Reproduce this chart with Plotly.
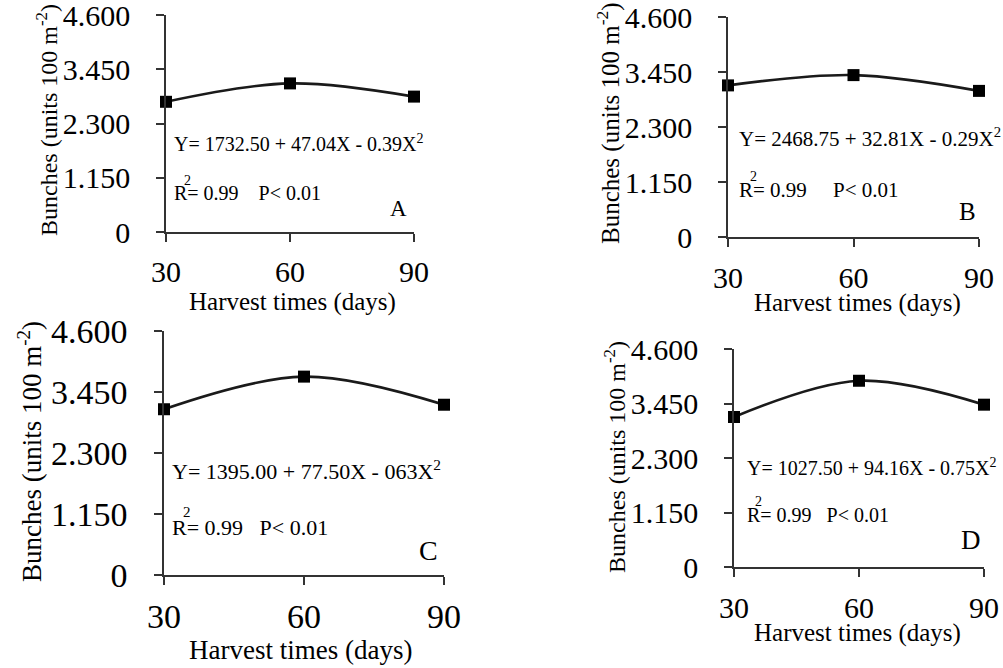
import plotly.graph_objects as go

W, H = 1003, 668

# ---------------- data ----------------
harvest_days = [30, 60, 90]
bunches_A = [2760, 3150, 2870]
bunches_B = [3170, 3385, 3055]
bunches_C = [3125, 3740, 3210]
bunches_D = [3165, 3930, 3425]

y_tickvals = [0, 1150, 2300, 3450, 4600]
y_ticktext = ["0", "1.150", "2.300", "3.450", "4.600"]
x_tickvals = [30, 60, 90]

equations = [
    "Y= 1732.50 + 47.04X - 0.39X<sup>2</sup>",
    "Y= 2468.75 + 32.81X - 0.29X<sup>2</sup>",
    "Y= 1395.00 + 77.50X - 063X<sup>2</sup>",
    "Y= 1027.50 + 94.16X - 0.75X<sup>2</sup>",
]
stats_text = [
    "R= 0.99\u00a0\u00a0\u00a0\u00a0P< 0.01",
    "R= 0.99\u00a0\u00a0\u00a0\u00a0\u00a0P< 0.01",
    "R= 0.99\u00a0\u00a0\u00a0P< 0.01",
    "R= 0.99\u00a0\u00a0\u00a0P< 0.01",
]
panel_letters = ["A", "B", "C", "D"]
x_title = "Harvest times (days)"
y_title = "Bunches (units 100 m<sup>-2</sup>)"

# ---------------- layout geometry (pixels) ----------------
FONT = "Liberation Serif, Times New Roman, serif"
panels = [
    dict(x0=166, x1=414, yt=15, yb=232, tf=30, tt=25, yf=24, ef=20, lf=23,
         so=4, eq=(172, 143), st=(172, 193), sup=(187, 180), let=(398, 208),
         xt=(292, 302), yt_=(47, 120)),
    dict(x0=728, x1=979, yt=17, yb=237, tf=30, tt=25, yf=25, ef=21, lf=25,
         so=5, eq=(737, 137), st=(737, 190), sup=(753, 176), let=(967, 212),
         xt=(857, 303), yt_=(608, 123)),
    dict(x0=164, x1=444, yt=331, yb=575, tf=34, tt=27, yf=27, ef=22, lf=28,
         so=2, eq=(170, 470), st=(170, 527), sup=(187, 512), let=(428, 550),
         xt=(300, 650), yt_=(30, 452)),
    dict(x0=734, x1=984, yt=349, yb=567, tf=30, tt=25, yf=24, ef=20, lf=27,
         so=5, eq=(745, 467), st=(745, 515), sup=(758, 501), let=(971, 540),
         xt=(857, 633), yt_=(615, 457)),
]
series = [bunches_A, bunches_B, bunches_C, bunches_D]


def px(x):
    return x / W


def py(y):
    return 1 - y / H


def note(x, y, text, size, xanchor="left", angle=0, yanchor="middle"):
    return dict(x=px(x), y=py(y), xref="paper", yref="paper", text=text,
                xanchor=xanchor, yanchor=yanchor, showarrow=False,
                textangle=angle,
                font=dict(family=FONT, size=size, color="black"))


fig = go.Figure()
annotations = []
for i, (p, vals) in enumerate(zip(panels, series)):
    n = "" if i == 0 else str(i + 1)
    fig.add_trace(go.Scatter(
        x=harvest_days, y=vals, mode="lines+markers",
        line=dict(color="#1a1a1a", width=2.6, shape="spline"),
        marker=dict(symbol="square", size=12, color="black"),
        cliponaxis=False, showlegend=False,
        xaxis="x" + n, yaxis="y" + n,
    ))
    fig.layout["xaxis" + n] = dict(
        domain=[px(p["x0"]), px(p["x1"])], anchor="y" + n, automargin=False,
        range=[30, 90], tickvals=x_tickvals, ticks="outside", ticklen=8,
        tickwidth=1.5, tickcolor="#333", showline=True, linecolor="#333",
        linewidth=1.5, showgrid=False, zeroline=False,
        ticklabeloverflow="allow",
        tickfont=dict(family=FONT, size=p["tf"], color="black"),
        ticklabelstandoff=p["so"],
    )
    fig.layout["yaxis" + n] = dict(
        domain=[py(p["yb"]), py(p["yt"])], anchor="x" + n, automargin=False,
        range=[0, 4600], tickvals=y_tickvals, ticktext=y_ticktext,
        ticks="outside", ticklen=8, tickwidth=1.5, tickcolor="#333",
        showline=True, linecolor="#333", linewidth=1.5, showgrid=False,
        zeroline=False, ticklabeloverflow="allow",
        tickfont=dict(family=FONT, size=p["tf"], color="black"),
        ticklabelstandoff=20,
    )
    annotations += [
        note(p["eq"][0], p["eq"][1], equations[i], p["ef"]),
        note(p["st"][0], p["st"][1], stats_text[i], p["ef"]),
        note(p["sup"][0], p["sup"][1], "2", int(p["ef"] * 0.7), "center"),
        note(p["let"][0], p["let"][1], panel_letters[i], p["lf"], "center"),
        note(p["xt"][0], p["xt"][1], x_title, p["tt"], "center"),
        note(p["yt_"][0], p["yt_"][1], y_title, p["yf"], "center", -90),
    ]

# clipped superscripts of the caption line below the figure
for xc in [683, 827, 972]:
    annotations.append(note(xc, 662, "2", 13, "center", yanchor="top"))

fig.update_layout(
    width=W, height=H, margin=dict(l=0, r=0, t=0, b=0, autoexpand=False),
    paper_bgcolor="white", plot_bgcolor="white",
    annotations=annotations,
)
fig.write_html(
    "out.html",
    config={"displayModeBar": False},
    post_script="document.body.style.margin='0';"
                "document.body.style.overflow='hidden';",
)
